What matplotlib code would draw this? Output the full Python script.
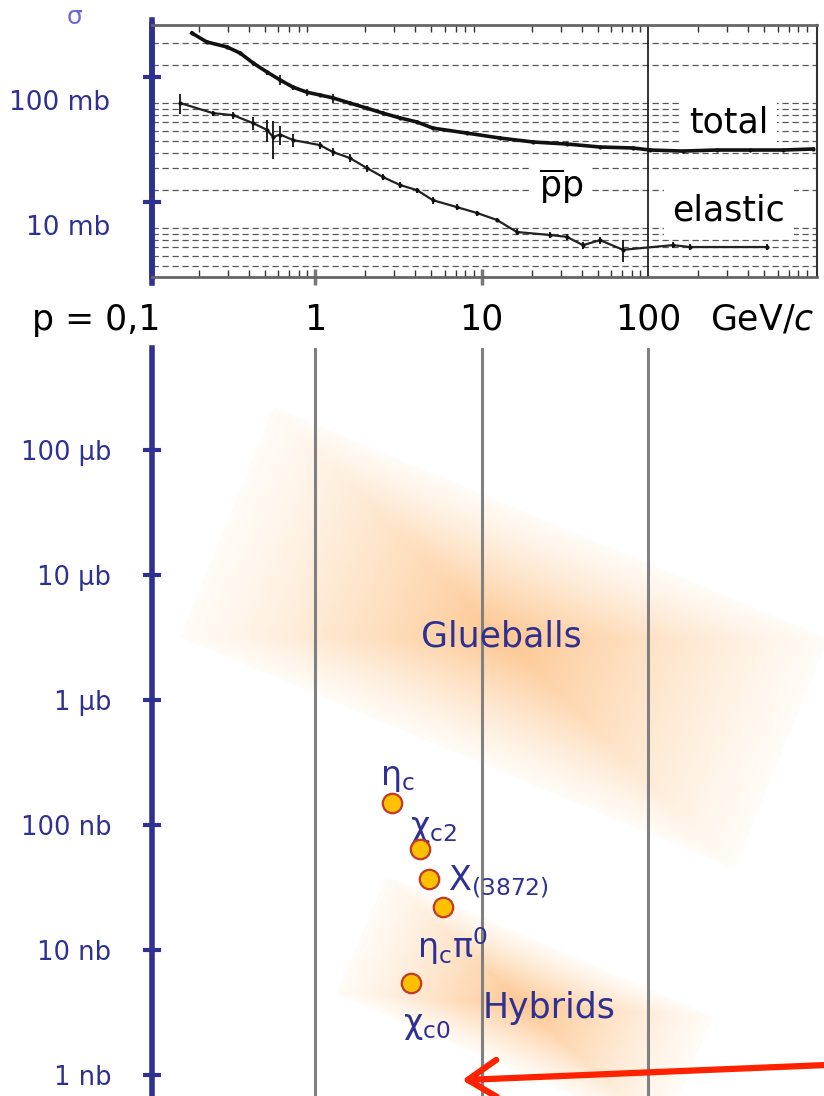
import numpy as np
import matplotlib
matplotlib.use('Agg')
import matplotlib.pyplot as plt
from matplotlib.colors import LinearSegmentedColormap

plt.rcParams['font.family'] = ['DejaVu Sans']
plt.rcParams['mathtext.fontset'] = 'dejavusans'

# ---- top panel: pbar-p cross sections (mb) vs beam momentum (GeV/c)
p_total = [0.182, 0.224, 0.296, 0.355, 0.425, 0.515, 0.617, 0.738, 0.895, 1.07, 1.28, 1.62, 2.05,
           2.56, 3.24, 4.10, 5.11, 8.18, 12.9, 20.4, 32.6, 51.5, 81.3, 103, 162, 259, 410, 647, 980]
sig_total = [363, 308, 281, 251, 209, 177, 153, 134, 122, 116, 110, 100, 91, 83, 76, 70.5, 63,
             57.5, 52.5, 48.8, 47, 44.5, 43.7, 42.1, 41.3, 42.1, 42.1, 42.1, 42.9]
err_total = [15, 12, 10, 10, 8, 8, 14, 6, 8, 4, 9, 4, 3, 3, 3, 3, 2, 2, 2, 2, 1.5, 1, 1, 1, 1,
             1, 1, 1, 1]

p_el = [0.155, 0.244, 0.322, 0.425, 0.515, 0.560, 0.617, 0.738, 1.07, 1.28, 1.62, 2.05, 2.56,
        3.24, 4.10, 5.11, 7.13, 9.40, 12.4, 16.3, 25.8, 32.6, 40.7, 51.5, 70.8, 141, 179, 519]
sig_el = [100, 83, 80, 69, 61, 53.5, 56, 50.6, 46.1, 40.6, 36.3, 30.2, 25.6, 22.1, 20.1, 16.7,
          14.7, 13.2, 11.6, 9.3, 8.8, 8.5, 7.3, 8.0, 6.7, 7.3, 7.05, 7.05]
err_el = [18, 4, 5, 8, 12, 18, 10, 6, 3, 3, 2.5, 2, 1.5, 1.2, 1, 1, 0.8, 0.6, 0.5, 0.5, 0.5,
          0.5, 0.5, 0.5, 1.3, 0.4, 0.4, 0.4]

grid_mb = [300, 200, 100, 90, 80, 70, 60, 50, 40, 30, 20, 10, 9, 8, 7, 6, 5]
blue_tick_mb = [161, 16.1]
top_labels = ['100 mb', '10 mb']
top_label_mb = [100, 10]

mom_ticks = [1, 10, 100]
mom_labels = ['1', '10', '100']

# ---- bottom panel: charmonium states, cross section in nb
state_p = [2.90, 4.27, 4.84, 5.87, 3.77]
state_nb = [150, 64, 37, 22, 5.4]
state_labels = [r'$\mathrm{η}_\mathrm{c}$', r'$\mathrm{χ}_\mathrm{c2}$', r'$\mathrm{X}_\mathrm{(3872)}$',
                r'$\mathrm{η}_\mathrm{c}\mathrm{π}^\mathrm{0}$', r'$\mathrm{χ}_\mathrm{c0}$']
label_p = [2.46, 3.72, 6.29, 4.10, 3.38]
label_nb = [238, 94.6, 35.0, 10.8, 2.51]

sigma_ticks_nb = [1e5, 1e4, 1e3, 100, 10, 1]
sigma_tick_labels = ['100 µb', '10 µb', '1 µb', '100 nb', '10 nb', '1 nb']

# regions (corners: top, right, bottom, left) in (p, nb)
glue_p = [0.568, 1189, 329, 0.157]
glue_nb = [2.17e5, 3076, 45.3, 3192]
hyb_p = [2.71, 242, 121, 1.36]
hyb_nb = [38.4, 2.91, 0.344, 4.53]

arrow_from = (1140, 1.2)
arrow_to = (7.64, 0.91)

BLUE = '#2e3192'
W, H = 824, 1096


def px_p(px):
    # horizontal pixel -> momentum, same log scale in both panels
    return 10 ** ((px - 148.5) / 166.5 - 1)


fig = plt.figure(figsize=(W / 100, H / 100), dpi=100)
fig.patch.set_facecolor('white')

# ---------------- top panel ----------------
ax1 = fig.add_axes([152 / W, 1 - 277 / H, 665 / W, 252 / H])
ax1.set_xscale('log')
ax1.set_yscale('log')
ax1.set_xlim(px_p(152), px_p(817))
ax1.set_ylim(4.06, 421)

for g in grid_mb:
    ax1.axhline(g, color='#555555', lw=0.9, ls=(0, (5, 3)), zorder=1)
ax1.axvline(100, color='#111111', lw=1.2, zorder=1)

ax1.plot(p_total, sig_total, color='#111111', lw=2.6, zorder=2)
ax1.errorbar(p_total, sig_total, yerr=err_total, fmt='.', ms=4, color='#111111',
             elinewidth=1.2, capsize=0, zorder=2)
ax1.plot(p_el, sig_el, color='#222222', lw=1.6, zorder=2)
ax1.errorbar(p_el, sig_el, yerr=err_el, fmt='.', ms=4, color='#111111',
             elinewidth=1.3, capsize=0, zorder=2)

box = dict(fc='white', ec='none', boxstyle='square,pad=0.25')
ax1.text(306, 70.5, 'total', fontsize=25, ha='center', va='center', bbox=box, zorder=3)
ax1.text(306, 13.7, 'elastic', fontsize=25, ha='center', va='center', bbox=box, zorder=3)
ax1.text(30, 21.5, r'$\overline{\mathrm{p}}\mathrm{p}$', fontsize=25, ha='center', va='center',
         bbox=box, zorder=3)

ax1.set_xticks([1, 10])
ax1.set_xticklabels(['', ''])
ax1.tick_params(axis='x', which='major', direction='inout', length=12, width=2.5,
                color='#777777', top=False)
ax1.tick_params(axis='x', which='minor', direction='in', length=5, width=1,
                color='#333333', top=True, bottom=True, labelbottom=False)
ax1.set_yticks(blue_tick_mb)
ax1.set_yticklabels(['', ''])
ax1.yaxis.set_minor_locator(matplotlib.ticker.NullLocator())
ax1.tick_params(axis='y', which='major', direction='inout', length=13, width=3, color=BLUE)
for v, lab in zip(top_label_mb, top_labels):
    ax1.text(-0.063, v, lab, transform=ax1.get_yaxis_transform(), ha='right', va='center',
             color=BLUE, fontsize=19)

ax1.spines['left'].set_color(BLUE)
ax1.spines['left'].set_linewidth(4)
for s in ['top', 'bottom']:
    ax1.spines[s].set_color('#666666')
    ax1.spines[s].set_linewidth(2)
ax1.spines['right'].set_color('#333333')
ax1.spines['right'].set_linewidth(1.5)
ax1.axvline(px_p(152), ymin=-0.025, ymax=1.02, color=BLUE, lw=4, clip_on=False)

fig.text(75 / W, 1 - 17 / H, 'σ', color='#6a6ad2', fontsize=18, ha='center', va='center')

# momentum scale labels
for p, lab in zip(mom_ticks, mom_labels):
    ax1.text(p, -0.21, lab, transform=ax1.get_xaxis_transform(), ha='center', va='baseline',
             fontsize=25)
ax1.annotate('p = 0,1', xy=(0.1, -0.21), xycoords=ax1.get_xaxis_transform(), xytext=(9, 0),
             textcoords='offset points', ha='right', va='baseline', fontsize=25,
             annotation_clip=False)
ax1.text(235, -0.21, r'GeV/$c$', transform=ax1.get_xaxis_transform(), ha='left',
         va='baseline', fontsize=25)

# ---------------- bottom panel ----------------
ax2 = fig.add_axes([152 / W, 0, 672 / W, 748 / H])
ax2.set_xscale('log')
ax2.set_yscale('log')
ax2.set_xlim(px_p(152), px_p(824))
ax2.set_ylim(10 ** -0.168, 10 ** 5.816)

glow = LinearSegmentedColormap.from_list('glow', [(1.0, 0.985, 0.965), (0.99, 0.78, 0.57)])


def soft_box(ax, ps, ss):
    lp, ls = np.log10(ps), np.log10(ss)
    S, T = np.meshgrid(np.linspace(0, 1, 241), np.linspace(0, 1, 121))

    def bil(v):
        return (1 - T) * ((1 - S) * v[0] + S * v[1]) + T * ((1 - S) * v[3] + S * v[2])

    X, Y = 10 ** bil(lp), 10 ** bil(ls)
    # nested rectangles: strongest in the middle, faint at the border
    d = np.minimum(2 * np.minimum(S, 1 - S), 2 * np.minimum(T, 1 - T))
    Z = d ** 1.2
    ax.pcolormesh(X, Y, Z, cmap=glow, vmin=0, vmax=1, shading='gouraud', zorder=0,
                  antialiased=False)


soft_box(ax2, glue_p, glue_nb)
soft_box(ax2, hyb_p, hyb_nb)

for p in mom_ticks:
    ax2.axvline(p, color='#808080', lw=2.2, zorder=1)

ax2.text(13.1, 3250, 'Glueballs', fontsize=25, color=BLUE, ha='center', va='center', zorder=3)
ax2.text(10.1, 3.44, 'Hybrids', fontsize=25, color=BLUE, ha='left', va='center', zorder=3)

for lp_, ln_, lab in zip(label_p, label_nb, state_labels):
    ax2.text(lp_, ln_, lab, fontsize=24, color=BLUE, ha='left', va='center', zorder=3)
ax2.plot(state_p, state_nb, 'o', ms=14, mfc='#ffc000', mec='#c0392b', mew=1.6, zorder=5)

ax2.annotate('', xy=arrow_to, xytext=arrow_from,
             arrowprops=dict(arrowstyle='->,head_length=0.7,head_width=0.45', color='#ff2200',
                             lw=4.5, mutation_scale=30, shrinkA=0, shrinkB=0),
             annotation_clip=False, zorder=6)

ax2.set_yticks(sigma_ticks_nb)
ax2.set_yticklabels(sigma_tick_labels)
ax2.yaxis.set_minor_locator(matplotlib.ticker.NullLocator())
ax2.tick_params(axis='y', which='major', direction='inout', length=13, width=3, color=BLUE,
                labelcolor=BLUE, labelsize=18.5, pad=23)
ax2.set_xticks([])
ax2.xaxis.set_minor_locator(matplotlib.ticker.NullLocator())
for s in ['top', 'right', 'bottom']:
    ax2.spines[s].set_visible(False)
ax2.spines['left'].set_color(BLUE)
ax2.spines['left'].set_linewidth(4)

fig.savefig('out.png', dpi=100)
